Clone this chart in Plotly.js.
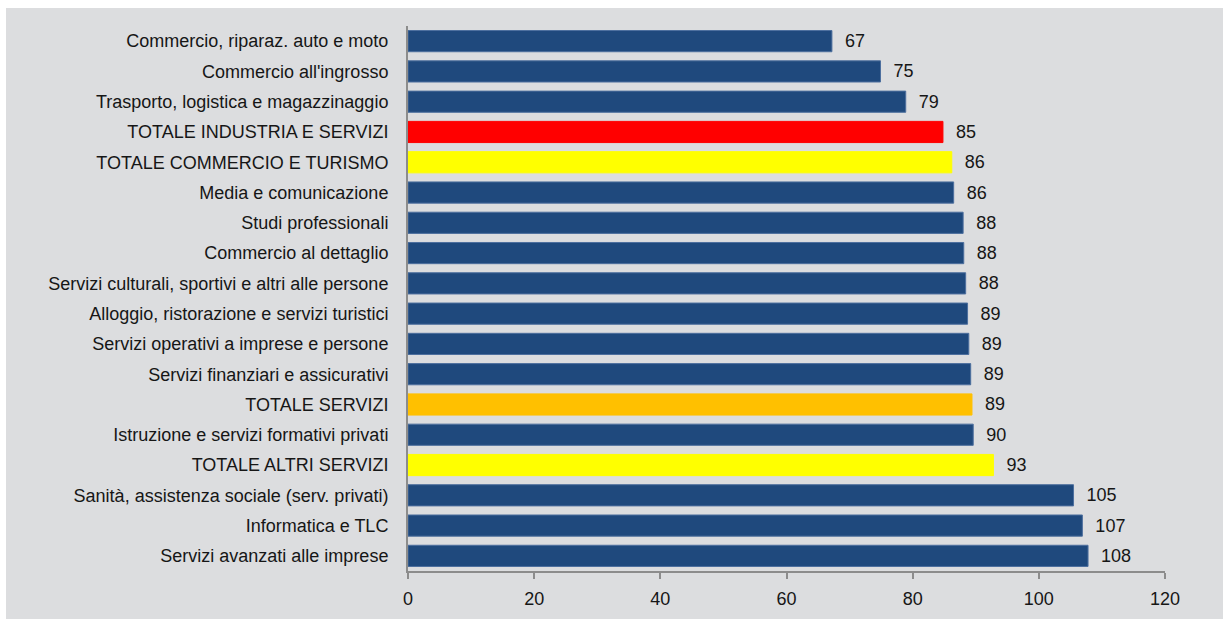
<!DOCTYPE html>
<html>
<head>
<meta charset="utf-8">
<script src="https://cdn.plot.ly/plotly-3.0.1.min.js"></script>
<style>
html,body{margin:0;padding:0;background:#ffffff;}
#chart{position:absolute;left:6px;top:8px;width:1217px;height:611px;}
</style>
</head>
<body>
<div id="chart"></div>
<script>
const categories = [
  "Commercio, riparaz. auto e moto",
  "Commercio all'ingrosso",
  "Trasporto, logistica e magazzinaggio",
  "TOTALE INDUSTRIA E SERVIZI",
  "TOTALE COMMERCIO E TURISMO",
  "Media e comunicazione",
  "Studi professionali",
  "Commercio al dettaglio",
  "Servizi culturali, sportivi e altri alle persone",
  "Alloggio, ristorazione e servizi turistici",
  "Servizi operativi a imprese e persone",
  "Servizi finanziari e assicurativi",
  "TOTALE SERVIZI",
  "Istruzione e servizi formativi privati",
  "TOTALE ALTRI SERVIZI",
  "Sanità, assistenza sociale (serv. privati)",
  "Informatica e TLC",
  "Servizi avanzati alle imprese"
];
const values = [67.2, 74.9, 78.9, 84.8, 86.2, 86.5, 88.0, 88.1, 88.4, 88.7, 88.9, 89.2, 89.4, 89.6, 92.8, 105.5, 106.9, 107.8];
const valueLabels = ["67","75","79","85","86","86","88","88","88","89","89","89","89","90","93","105","107","108"];
const barColors = ["#1f497d","#1f497d","#1f497d","#ff0000","#ffff00","#1f497d","#1f497d","#1f497d","#1f497d","#1f497d","#1f497d","#1f497d","#ffc000","#1f497d","#ffff00","#1f497d","#1f497d","#1f497d"];
const xTicks = [0, 20, 40, 60, 80, 100, 120];

const font = "'Liberation Sans', Arial, sans-serif";
const lineColors = barColors.map(c => c === "#1f497d" ? "#4d6f9e" : c);

const trace = {
  type: "bar",
  orientation: "h",
  y: categories,
  x: values,
  text: valueLabels,
  texttemplate: "  %{text}",
  textposition: "outside",
  cliponaxis: false,
  textfont: {family: font, size: 18, color: "#161616"},
  marker: {color: barColors, line: {color: lineColors, width: 1}},
  hoverinfo: "x+y"
};

const layout = {
  paper_bgcolor: "#dcdddf",
  plot_bgcolor: "#dcdddf",
  margin: {l: 402, r: 58, t: 18, b: 48},
  bargap: 0.3,
  showlegend: false,
  font: {family: font, size: 18, color: "#161616"},
  xaxis: {
    range: [0, 120],
    tickvals: xTicks,
    ticktext: xTicks.map(String),
    showgrid: false,
    zeroline: false,
    showline: true,
    linecolor: "#8c8c8c",
    linewidth: 2,
    ticks: "outside",
    ticklen: 6,
    tickwidth: 2,
    tickcolor: "#8c8c8c",
    ticklabelstandoff: 4,
    tickfont: {family: font, size: 18, color: "#161616"}
  },
  yaxis: {
    autorange: "reversed",
    showgrid: false,
    zeroline: false,
    showline: true,
    linecolor: "#8c8c8c",
    linewidth: 2,
    ticks: "",
    ticklabelstandoff: 14,
    tickfont: {family: font, size: 18, color: "#161616"}
  }
};

Plotly.newPlot("chart", [trace], layout, {displayModeBar: false, staticPlot: true});
</script>
</body>
</html>
